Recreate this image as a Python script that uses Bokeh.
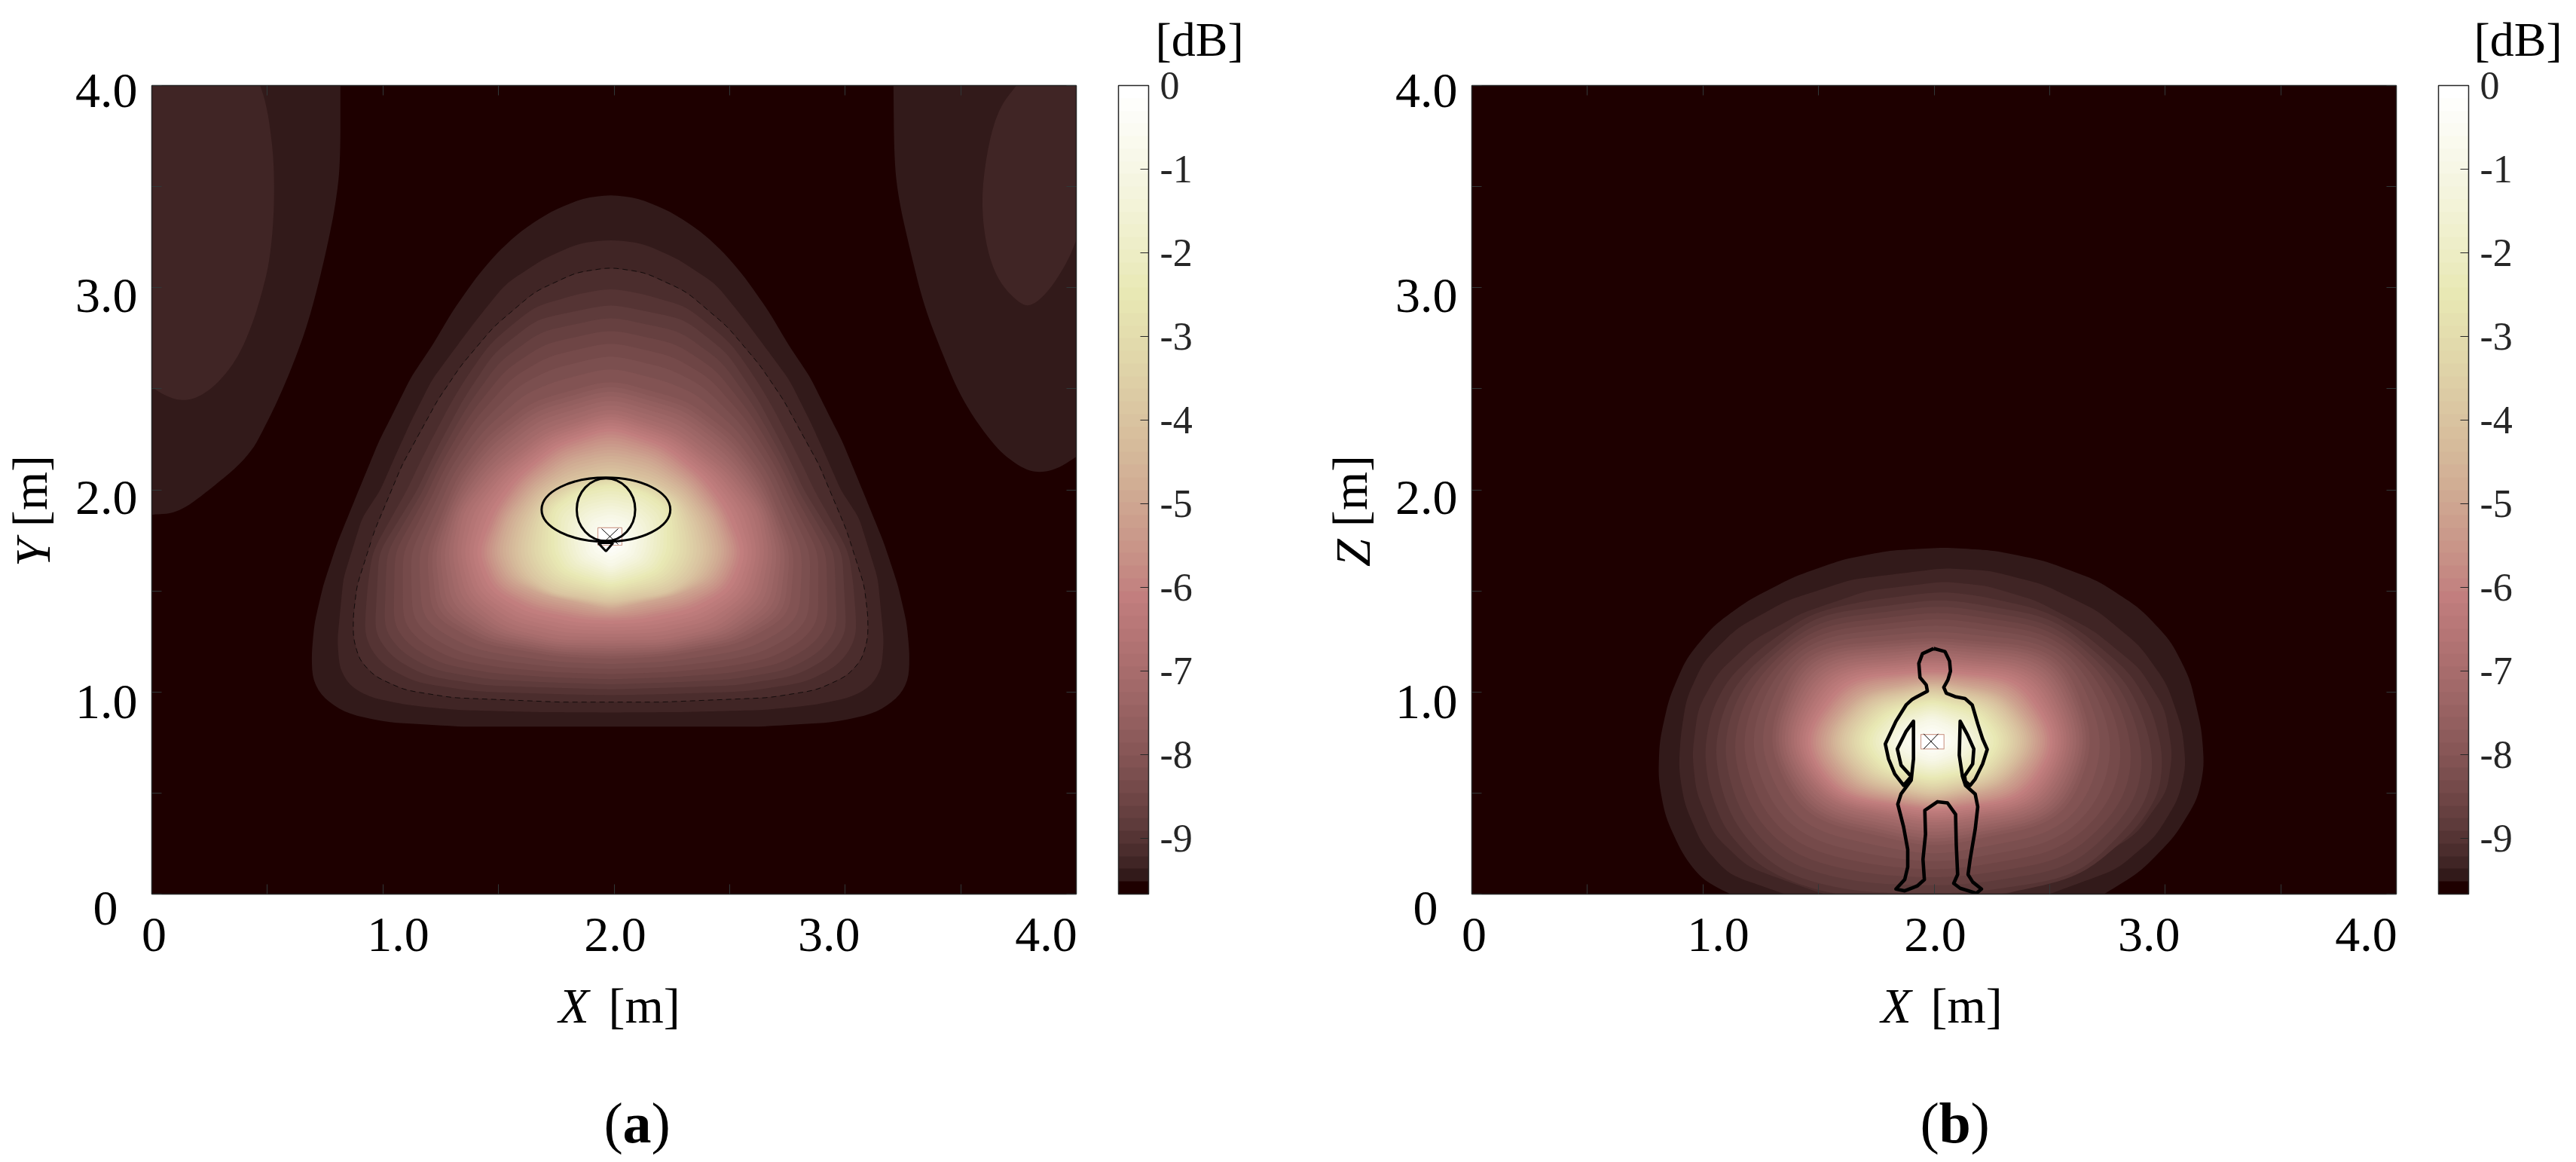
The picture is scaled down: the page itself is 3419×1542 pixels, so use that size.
import numpy as np
from bokeh.embed import file_html
from bokeh.layouts import row
from bokeh.models import AllLabels, ColorBar, FixedTicker, LinearAxis, LinearColorMapper, PrintfTickFormatter, Range1d
from bokeh.plotting import figure
from bokeh.resources import INLINE

# ---- readings from the picture (metres, dB) ----
db_low, db_high = -9.67, 0.0
cbar_ticks = [0, -1, -2, -3, -4, -5, -6, -7, -8, -9]
axis_ticks = [0, 0.5, 1, 1.5, 2, 2.5, 3, 3.5, 4]
x_tick_text = ["0", "1.0", "2.0", "3.0", "4.0"]
x_tick_text_pos = [0.01, 1.066, 2.005, 2.93, 3.87]
y_tick_text = ["1.0", "2.0", "3.0", "4.0"]
y_tick_text_pos = [0.951, 1.961, 2.96, 3.974]

# Panel (a): left half of each level outline, mirrored about x = a_mirror
a_mirror = 1.985
a_centre = (1.985, 1.74)
a_levels = [-9.52, -9.37, -9.22, -9.0, -8.0, -7.0, -6.0, -5.0, -4.0, -2.5, -1.0]
a_half = {
    -9.52: [(1.985, 3.462), (1.862, 3.443), (1.722, 3.375), (1.594, 3.279), (1.492, 3.171), (1.403, 3.05),
            (1.301, 2.884), (1.212, 2.712), (1.122, 2.559), (1.033, 2.355), (0.982, 2.24), (0.899, 2.01),
            (0.802, 1.737), (0.741, 1.526), (0.703, 1.339), (0.691, 1.189), (0.694, 1.066), (0.730, 0.985),
            (0.812, 0.911), (0.888, 0.880), (1.029, 0.849), (1.344, 0.828), (1.985, 0.828)],
    -9.37: [(1.985, 3.239), (1.85, 3.222), (1.696, 3.145), (1.53, 3.02), (1.403, 2.84), (1.327, 2.724),
            (1.212, 2.546), (1.122, 2.342), (1.046, 2.15), (0.989, 2.0), (0.909, 1.861), (0.828, 1.562),
            (0.802, 1.253), (0.812, 1.115), (0.855, 1.030), (0.942, 0.973), (1.105, 0.935), (1.322, 0.910),
            (1.67, 0.900), (1.985, 0.898)],
    -9.22: [(1.985, 3.10), (1.837, 3.075), (1.658, 2.98), (1.48, 2.807), (1.339, 2.616), (1.237, 2.444),
            (1.083, 2.123), (0.964, 1.799), (0.888, 1.526), (0.872, 1.377), (0.872, 1.265), (0.899, 1.158),
            (0.964, 1.078), (1.094, 1.010), (1.301, 0.972), (1.768, 0.950), (1.985, 0.950)],
    -9.0: [(1.985, 2.954), (1.658, 2.878), (1.467, 2.7), (1.339, 2.469), (1.224, 2.214), (1.135, 2.0),
           (0.964, 1.69), (0.942, 1.28), (1.018, 1.155), (1.159, 1.066), (1.431, 1.017), (1.985, 0.999)],
    -8.0: [(1.985, 2.54), (1.65, 2.434), (1.45, 2.26), (1.322, 2.06), (1.192, 1.69), (1.215, 1.377),
           (1.431, 1.241), (1.757, 1.178), (1.985, 1.165)],
    -7.0: [(1.985, 2.39), (1.70, 2.285), (1.486, 2.098), (1.344, 1.899), (1.311, 1.69), (1.355, 1.465),
           (1.518, 1.315), (1.757, 1.253), (1.985, 1.25)],
    -6.0: [(1.985, 2.296), (1.757, 2.21), (1.594, 2.06), (1.496, 1.91), (1.42, 1.69), (1.485, 1.51),
           (1.649, 1.414), (1.866, 1.364), (1.985, 1.358)],
    -5.0: [(1.985, 2.19), (1.811, 2.147), (1.65, 2.023), (1.539, 1.862), (1.496, 1.69), (1.55, 1.554),
           (1.7, 1.478), (1.985, 1.408)],
    -4.0: [(1.985, 2.09), (1.79, 2.035), (1.682, 1.961), (1.615, 1.84), (1.584, 1.69), (1.63, 1.57),
           (1.735, 1.49), (1.985, 1.445)],
    -2.5: [(1.985, 2.02), (1.84, 1.985), (1.735, 1.9), (1.735, 1.69), (1.78, 1.6), (1.866, 1.56), (1.985, 1.525)],
    -1.0: [(1.985, 1.875), (1.91, 1.85), (1.87, 1.77), (1.89, 1.68), (1.985, 1.62)],
}
a_lobe_left_1 = [(0, 4), (0.816, 4), (0.816, 3.617), (0.797, 3.426), (0.765, 3.235), (0.721, 3.018), (0.676, 2.827),
                 (0.625, 2.661), (0.561, 2.482), (0.497, 2.329), (0.42, 2.163), (0.232, 1.983), (0.112, 1.886), (0, 1.877)]
a_lobe_left_2 = [(0, 4), (0.469, 4), (0.491, 3.923), (0.51, 3.809), (0.529, 3.617), (0.529, 3.362), (0.51, 3.133),
                 (0.478, 2.98), (0.434, 2.814), (0.37, 2.648), (0.281, 2.52), (0.191, 2.45), (0.115, 2.441),
                 (0.051, 2.47), (0, 2.508)]
a_lobe_right_1 = [(4, 4), (3.209, 4), (3.212, 3.63), (3.231, 3.439), (3.276, 3.209), (3.339, 2.916), (3.416, 2.686),
                  (3.505, 2.444), (3.645, 2.214), (3.747, 2.119), (3.824, 2.083), (3.913, 2.1), (4, 2.163)]
a_lobe_right_2 = [(4, 4), (3.741, 4), (3.671, 3.898), (3.626, 3.745), (3.594, 3.515), (3.594, 3.337), (3.62, 3.158),
                  (3.671, 3.018), (3.76, 2.916), (3.811, 2.91), (3.888, 2.992), (3.964, 3.133), (4, 3.235)]
a_ellipse = (1.965, 1.902, 0.557, 0.317)
a_circle = (1.965, 1.902, 0.253, 0.31)
a_nose_x = [1.931, 1.965, 1.996, 1.931]
a_nose_y = [1.737, 1.696, 1.737, 1.737]
a_device = (1.982, 1.769, 0.104, 0.086)
a_cross = (1.946, 2.018, 1.73, 1.808)

# Panel (b): complete level outlines
b_centre = (1.993, 0.756)
b_levels = [-9.52, -9.37, -9.22, -9.0, -8.0, -7.0, -6.0, -5.0, -4.0, -2.5, -1.0]
b_full = {
    -9.52: [(2.043, 1.715), (1.81, 1.70), (1.61, 1.657), (1.394, 1.57), (1.194, 1.452), (1.045, 1.327), (0.928, 1.166),
            (0.853, 0.967), (0.812, 0.756), (0.807, 0.569), (0.837, 0.383), (0.912, 0.197), (0.995, 0.072), (1.111, 0.004),
            (1.3, -0.1), (2.0, -0.15), (2.6, -0.1), (2.741, 0.004), (2.891, 0.11), (3.04, 0.284), (3.14, 0.47), (3.169, 0.631),
            (3.157, 0.818), (3.107, 1.066), (3.024, 1.253), (2.891, 1.414), (2.708, 1.551), (2.475, 1.65), (2.259, 1.70)],
    -9.37: [(2.043, 1.613), (1.644, 1.557), (1.361, 1.452), (1.145, 1.315), (1.003, 1.153), (0.928, 0.967), (0.903, 0.781),
            (0.895, 0.619), (0.92, 0.445), (0.995, 0.246), (1.111, 0.097), (1.344, 0.004), (1.5, -0.06), (2.0, -0.1), (2.4, -0.05),
            (2.508, 0.004), (2.791, 0.122), (2.958, 0.284), (3.057, 0.47), (3.09, 0.631), (3.074, 0.818), (3.007, 1.041),
            (2.891, 1.228), (2.708, 1.402), (2.475, 1.532), (2.243, 1.6)],
    -9.22: [(2.043, 1.547), (1.71, 1.501), (1.427, 1.39), (1.211, 1.253), (1.061, 1.091), (0.978, 0.917), (0.953, 0.694),
            (0.97, 0.507), (1.045, 0.296), (1.194, 0.134), (1.51, 0.004), (1.7, -0.04), (2.0, -0.06), (2.2, -0.03), (2.325, 0.004),
            (2.641, 0.134), (2.874, 0.296), (3.007, 0.507), (3.032, 0.694), (2.999, 0.917), (2.891, 1.116), (2.691, 1.303),
            (2.442, 1.452), (2.226, 1.526)],
    -9.0: [(2.043, 1.477), (2.525, 1.377), (2.858, 1.054), (2.974, 0.719), (2.958, 0.445), (2.642, 0.072), (2.19, -0.01),
           (1.993, -0.015), (1.643, -0.01), (1.311, 0.085), (1.095, 0.358), (1.02, 0.719), (1.111, 1.042), (1.477, 1.39)],
    -8.0: [(1.993, 1.265), (2.542, 1.203), (2.691, 0.756), (2.558, 0.371), (1.993, 0.234), (1.444, 0.383), (1.278, 0.756), (1.427, 1.203)],
    -7.0: [(1.993, 1.172), (2.459, 1.116), (2.6, 0.756), (2.459, 0.433), (1.993, 0.346), (1.527, 0.457), (1.361, 0.756), (1.519, 1.116)],
    -6.0: [(1.993, 1.097), (2.359, 1.054), (2.525, 0.756), (2.375, 0.482), (1.993, 0.42), (1.594, 0.495), (1.436, 0.756), (1.627, 1.054)],
    -5.0: [(1.993, 1.054), (2.309, 0.992), (2.458, 0.756), (2.309, 0.532), (1.993, 0.457), (1.66, 0.532), (1.51, 0.756), (1.677, 0.992)],
    -4.0: [(1.993, 1.017), (2.267, 0.955), (2.392, 0.756), (2.267, 0.569), (1.993, 0.495), (1.71, 0.569), (1.577, 0.756), (1.718, 0.955)],
    -2.5: [(1.993, 0.955), (2.192, 0.892), (2.284, 0.756), (2.192, 0.619), (1.993, 0.57), (1.793, 0.619), (1.693, 0.756), (1.793, 0.892)],
    -1.0: [(1.993, 0.868), (2.076, 0.824), (2.142, 0.756), (2.076, 0.694), (1.993, 0.656), (1.893, 0.694), (1.826, 0.756), (1.893, 0.824)],
}
body = [(1.998, 1.215), (2.047, 1.200), (2.067, 1.153), (2.071, 1.103), (2.060, 1.060), (2.042, 1.023), (2.053, 0.994),
        (2.091, 0.977), (2.134, 0.967), (2.165, 0.936), (2.189, 0.842), (2.210, 0.768), (2.230, 0.716), (2.210, 0.644),
        (2.178, 0.569), (2.156, 0.538), (2.136, 0.557), (2.132, 0.584), (2.167, 0.644), (2.172, 0.718), (2.145, 0.787),
        (2.113, 0.855), (2.109, 0.687), (2.123, 0.582), (2.136, 0.538), (2.178, 0.495), (2.189, 0.432), (2.178, 0.321),
        (2.156, 0.172), (2.147, 0.097), (2.167, 0.060), (2.205, 0.025), (2.183, 0.004), (2.113, 0.029), (2.085, 0.053),
        (2.102, 0.097), (2.096, 0.246), (2.093, 0.395), (2.058, 0.451), (2.015, 0.457), (1.960, 0.414), (1.963, 0.296),
        (1.952, 0.172), (1.958, 0.072), (1.928, 0.041), (1.873, 0.016), (1.835, 0.025), (1.873, 0.072), (1.886, 0.134),
        (1.886, 0.221), (1.868, 0.333), (1.843, 0.445), (1.857, 0.495), (1.901, 0.563), (1.911, 0.669), (1.911, 0.855),
        (1.879, 0.805), (1.841, 0.718), (1.857, 0.638), (1.901, 0.582), (1.868, 0.538), (1.830, 0.594), (1.803, 0.669),
        (1.789, 0.743), (1.835, 0.855), (1.879, 0.936), (1.906, 0.964), (1.971, 1.004), (1.966, 1.035), (1.939, 1.072),
        (1.934, 1.141), (1.950, 1.190), (1.998, 1.215)]
b_device = (1.993, 0.754, 0.10, 0.072)
b_cross = (1.955, 2.018, 0.718, 0.793)

# ---- colour scale: the 64-step "pink" map ----
m = 64
red = np.minimum(np.arange(1, m + 1) / 24, 1)
green = np.clip((np.arange(1, m + 1) - 24) / 24, 0, 1)
blue = np.clip((np.arange(1, m + 1) - 48) / 16, 0, 1)
gray = np.arange(m) / (m - 1)
rgb = np.sqrt((2 * np.stack([gray, gray, gray], 1) + np.stack([red, green, blue], 1)) / 3)
pink = ["#%02x%02x%02x" % tuple(int(round(v * 255)) for v in c) for c in rgb]
band = (db_high - db_low) / m

theta = np.radians(np.arange(0, 360, 1.0)) - np.pi
INK = "#262626"
SERIF = "Liberation Serif"


def dense(points, n=24):
    pts = np.array(list(points) + [points[0]], float)
    out = []
    for a, b in zip(pts[:-1], pts[1:]):
        for t in np.arange(n) / n:
            out.append(a + t * (b - a))
    return np.array(out)


def polar(points, centre):
    pts = dense(points)
    ang = np.arctan2(pts[:, 1] - centre[1], pts[:, 0] - centre[0])
    rad = np.hypot(pts[:, 0] - centre[0], pts[:, 1] - centre[1])
    order = np.argsort(ang)
    return np.interp(theta, ang[order], rad[order], period=2 * np.pi)


def soften(r, width):
    kernel = np.ones(width) / width
    for _ in range(2):
        r = np.convolve(np.r_[r[-width:], r, r[:width]], kernel, "same")[width:-width]
    return r


def rounded(points):
    pts = np.array(points, float)
    for _ in range(3):
        q = 0.75 * pts[:-1] + 0.25 * pts[1:]
        r = 0.25 * pts[:-1] + 0.75 * pts[1:]
        mid = np.empty((2 * len(q), 2))
        mid[0::2] = q
        mid[1::2] = r
        pts = np.vstack([pts[0], mid, pts[-1]])
    return pts


def nested(p, outlines, levels, centre, soft):
    table = [soften(polar(outlines[l], centre), soft[i]) for i, l in enumerate(levels)]
    table.append(np.zeros_like(theta))
    table = np.array(table)
    lv = list(levels) + [0.0]
    xs, ys, cols = [], [], []
    for k in range(1, m):
        level = db_low + k * band
        r = np.array([np.interp(level, lv, table[:, j]) for j in range(len(theta))])
        xs.append(centre[0] + r * np.cos(theta))
        ys.append(centre[1] + r * np.sin(theta))
        cols.append(pink[k])
    p.patches(xs, ys, fill_color=cols, line_color=None)
    return table


def panel(width, left, right_pad):
    p = figure(width=width, height=1534, output_backend="svg", toolbar_location=None,
               x_range=Range1d(0, 4), y_range=Range1d(0, 4), frame_width=1227, frame_height=1073,
               min_border_left=left, min_border_top=113, min_border_bottom=348, min_border_right=right_pad,
               background_fill_color=pink[0], border_fill_color="white", outline_line_color=None,
               x_axis_type=None, y_axis_type=None)
    p.grid.visible = False
    for side in ["below", "left", "above", "right"]:
        ax = LinearAxis(ticker=FixedTicker(ticks=axis_ticks), major_tick_in=13, major_tick_out=0,
                        minor_tick_line_color=None, major_tick_line_color="#303838", major_tick_line_width=1,
                        axis_line_color=INK, axis_line_width=1.5, major_label_text_font_size="0px",
                        major_label_text_color=None, major_label_standoff=0)
        p.add_layout(ax, side)
    return p


def label_axis(p, side, ticks, texts, standoff, style="normal", size="66px", orientation="horizontal"):
    ax = LinearAxis(ticker=FixedTicker(ticks=ticks), major_tick_in=0, major_tick_out=0,
                    minor_tick_line_color=None, axis_line_color=None, major_tick_line_color=None,
                    major_label_overrides={float(v): t for v, t in zip(ticks, texts)},
                    major_label_standoff=standoff, major_label_orientation=orientation,
                    major_label_text_font=SERIF, major_label_text_font_size=size,
                    major_label_text_font_style=style, major_label_text_color="black")
    p.add_layout(ax, side)


def note(p, text, dx, drop, size="66px", style="normal"):
    # a free text outside the frame: the only tick label of a blank two-pixel colour bar
    px = float(size[:-2])
    centre_drop = drop - 0.3 * px
    p.add_layout(ColorBar(color_mapper=LinearColorMapper(palette=["#ffffff"], low=0, high=1),
                          ticker=FixedTicker(ticks=[0.5]), major_label_overrides={0.5: text},
                          major_label_policy=AllLabels(), location=(dx, -centre_drop - 1), width=1, height=2,
                          orientation="vertical", margin=0, padding=0, scale_alpha=0, bar_line_color=None,
                          major_tick_line_color=None, minor_tick_line_color=None, label_standoff=0,
                          major_label_text_font=SERIF, major_label_text_font_size=size,
                          major_label_text_font_style=style, major_label_text_color="black"), "center")


def decorate(p, letter, tag, tag_dx, tag_w, x_shift, db_dx):
    label_axis(p, "below", x_tick_text_pos, x_tick_text, 32)
    label_axis(p, "left", y_tick_text_pos, y_tick_text, 19)
    label_axis(p, "left", [1.688], [letter], 16, style="italic", orientation="vertical")
    label_axis(p, "left", [1.994], ["[m]"], -72, orientation="vertical")
    note(p, "0", -79, 39)
    note(p, "X", 539 + x_shift, 168, style="italic")
    note(p, "[m]", 605 + x_shift, 168)
    note(p, "(", tag_dx, 326, size="76px")
    note(p, tag, tag_dx + 25, 326, size="76px", style="bold")
    note(p, ")", tag_dx + 25 + tag_w, 326, size="76px")
    note(p, "[dB]", db_dx, -1115, size="64px")
    cb = ColorBar(color_mapper=LinearColorMapper(palette=pink, low=db_low, high=db_high),
                  ticker=FixedTicker(ticks=cbar_ticks), formatter=PrintfTickFormatter(format="%d"),
                  location=(1283, 0), width=40, height=1073,
                  margin=0, padding=0, major_tick_in=11, major_tick_out=0, major_tick_line_color=INK,
                  minor_tick_line_color=None, bar_line_color=INK, bar_line_width=1.5, label_standoff=15,
                  major_label_text_font=SERIF, major_label_text_font_size="52px", major_label_text_color=INK,
                  major_label_policy=AllLabels())
    p.add_layout(cb, "center")


def device(p, box, cross):
    cx, cy, w, h = box
    p.rect(cx, cy, w, h, fill_color="white", line_color="#d0a090", line_width=1.2)
    x0, x1, y0, y1 = cross
    p.segment([x0, x0], [y0, y1], [x1, x1], [y1, y0], line_color="black", line_width=1)


# ---- panel (a) ----
pa = panel(1752, 201, 324)
for shape, k in [(a_lobe_left_1, 1), (a_lobe_left_2, 2), (a_lobe_right_1, 1), (a_lobe_right_2, 2)]:
    soft = rounded(shape[1:])
    pa.patch([shape[0][0]] + list(soft[:, 0]), [shape[0][1]] + list(soft[:, 1]), fill_color=pink[k], line_color=None)
a_outlines = {}
for lev, half in a_half.items():
    mirrored = [(2 * a_mirror - q[0], q[1]) for q in reversed(half) if q[0] < a_mirror]
    a_outlines[lev] = list(half) + mirrored
a_table = nested(pa, a_outlines, a_levels, a_centre, [3, 3, 3, 5, 9, 9, 11, 11, 13, 13, 15])
pa.line(a_centre[0] + a_table[2] * np.cos(theta), a_centre[1] + a_table[2] * np.sin(theta),
        line_color="black", line_width=1, line_dash="7 5", line_alpha=0.7)
device(pa, a_device, a_cross)
pa.ellipse(a_ellipse[0], a_ellipse[1], width=a_ellipse[2], height=a_ellipse[3], fill_color=None, line_color="black", line_width=3)
pa.ellipse(a_circle[0], a_circle[1], width=a_circle[2], height=a_circle[3], fill_color=None, line_color="black", line_width=3)
pa.line(a_nose_x, a_nose_y, line_color="black", line_width=3)
decorate(pa, "Y", "a", 599, 38, 0, 1331)

# ---- panel (b) ----
pb = panel(1659, 200, 232)
nested(pb, b_full, b_levels, b_centre, [5, 5, 5, 15, 21, 21, 21, 21, 21, 21, 21])
device(pb, b_device, b_cross)
pb.line([q[0] for q in body], [q[1] for q in body], line_color="black", line_width=4.6, line_join="round")
decorate(pb, "Z", "b", 594, 42, 3, 1329)

layout = row(pa, pb)
open("out.html", "w").write(file_html(layout, INLINE))
